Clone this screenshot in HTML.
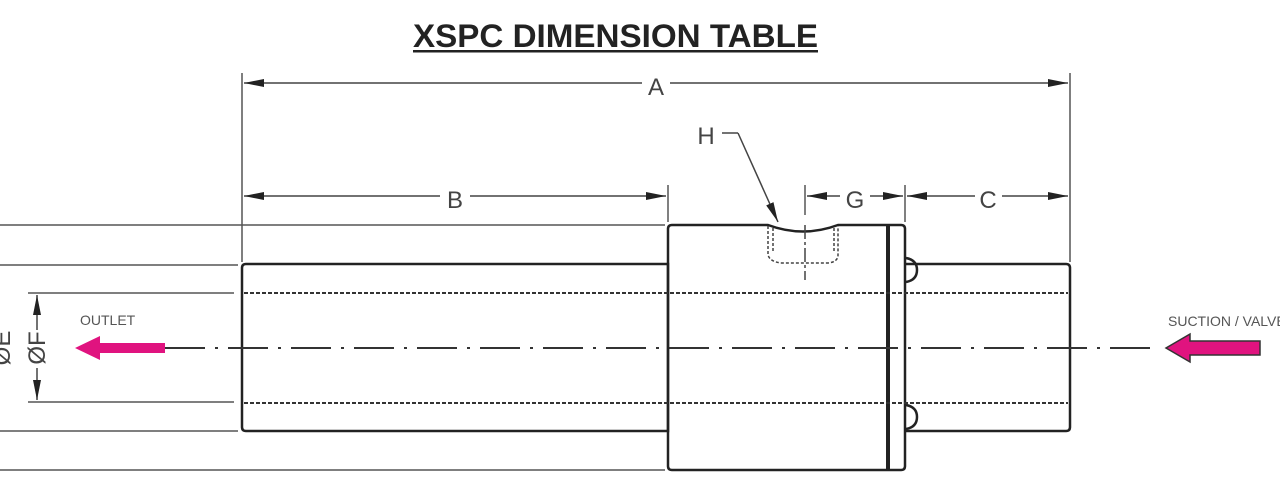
<!DOCTYPE html>
<html><head><meta charset="utf-8"><style>
html,body{margin:0;padding:0;background:#fff;width:1280px;height:500px;overflow:hidden}
svg{display:block}
text{font-family:"Liberation Sans",sans-serif}
</style></head><body>
<svg width="1280" height="500" viewBox="0 0 1280 500" xmlns="http://www.w3.org/2000/svg">
<defs>
<marker id="ar" viewBox="0 0 20 10" refX="20" refY="5" markerWidth="20" markerHeight="10" markerUnits="userSpaceOnUse" orient="auto-start-reverse">
<path d="M0,1 L20,5 L0,9 Z" fill="#222"/></marker>
</defs>
<text x="413" y="47" font-size="32" font-weight="bold" fill="#222" textLength="405" lengthAdjust="spacingAndGlyphs">XSPC DIMENSION TABLE</text>
<rect x="413" y="50" width="405" height="2.5" fill="#222"/>

<g stroke="#555" stroke-width="1.5" fill="none">
<line x1="242" y1="73" x2="242" y2="262"/>
<line x1="1070" y1="73" x2="1070" y2="262"/>
<line x1="668" y1="185" x2="668" y2="222"/>
<line x1="805" y1="185" x2="805" y2="215"/>
<line x1="905" y1="185" x2="905" y2="222"/>
<line x1="0" y1="225" x2="665" y2="225"/>
<line x1="0" y1="265" x2="238" y2="265"/>
<line x1="28" y1="293" x2="234" y2="293"/>
<line x1="28" y1="402" x2="234" y2="402"/>
<line x1="0" y1="431" x2="238" y2="431"/>
<line x1="0" y1="470" x2="665" y2="470"/>
</g>
<g stroke="#444" stroke-width="1.5">
<line x1="244" y1="83" x2="642" y2="83" marker-start="url(#ar)"/>
<line x1="670" y1="83" x2="1068" y2="83" marker-end="url(#ar)"/>
<line x1="244" y1="196" x2="440" y2="196" marker-start="url(#ar)"/>
<line x1="470" y1="196" x2="666" y2="196" marker-end="url(#ar)"/>
<line x1="807" y1="196" x2="840" y2="196" marker-start="url(#ar)"/>
<line x1="870" y1="196" x2="903" y2="196" marker-end="url(#ar)"/>
<line x1="907" y1="196" x2="975" y2="196" marker-start="url(#ar)"/>
<line x1="1002" y1="196" x2="1068" y2="196" marker-end="url(#ar)"/>
<line x1="37" y1="295" x2="37" y2="330" marker-start="url(#ar)"/>
<line x1="37" y1="368" x2="37" y2="400" marker-end="url(#ar)"/>
<line x1="722" y1="133" x2="738" y2="133"/>
<line x1="738" y1="133" x2="778" y2="222" marker-end="url(#ar)"/>
</g>
<g font-size="24" fill="#444" text-anchor="middle">
<text x="656" y="95">A</text>
<text x="455" y="208">B</text>
<text x="855" y="208">G</text>
<text x="988" y="208">C</text>
<text x="706" y="144">H</text>
<text transform="translate(45,348) rotate(-90)">ØF</text>
<text transform="translate(10,348) rotate(-90)">ØE</text>
</g>

<g stroke="#222" stroke-width="2.5" fill="none">
<path d="M246,264 H668 V431 H246 Q242,431 242,427 V268 Q242,264 246,264 Z"/>
<path d="M672,225 H768 Q803,238 838,225 H901 Q905,225 905,229 V466 Q905,470 901,470 H672 Q668,470 668,466 V229 Q668,225 672,225 Z"/>
<path d="M905,264 H1066 Q1070,264 1070,268 V427 Q1070,431 1066,431 H905"/>
<line x1="888" y1="226" x2="888" y2="469" stroke-width="4"/>
<path d="M906,258 Q917,260 917,270 Q917,280 906,282"/>
<path d="M906,405 Q917,407 917,417 Q917,427 906,429"/>
</g>
<g stroke="#444" stroke-width="1.5" fill="none" stroke-dasharray="3,2">
<path d="M768,226 V255 Q770,262 782,263 H828 Q838,262 838,255 V226"/>
<path d="M773,228 V252"/><path d="M834,228 V252"/>
</g>
<line x1="805" y1="225" x2="805" y2="280" stroke="#444" stroke-width="1.5" stroke-dasharray="14,3,3,3"/>
<g stroke="#333" stroke-width="2" stroke-dasharray="4,2">
<line x1="244" y1="293" x2="1068" y2="293"/>
<line x1="244" y1="403" x2="1068" y2="403"/>
</g>
<line x1="165" y1="348" x2="1155" y2="348" stroke="#333" stroke-width="2" stroke-dasharray="40,10,3,10"/>
<path d="M165,343 H100 V336 L75,348 L100,360 V353 H165 Z" fill="#e0137f"/>
<path d="M1260,341 H1190 V334 L1166,348 L1190,362 V355 H1260 Z" fill="#e0137f" stroke="#333" stroke-width="1.5"/>
<g font-size="14" fill="#555">
<text x="80" y="325">OUTLET</text>
<text x="1168" y="326">SUCTION / VALVE</text>
</g>
</svg>
</body></html>
